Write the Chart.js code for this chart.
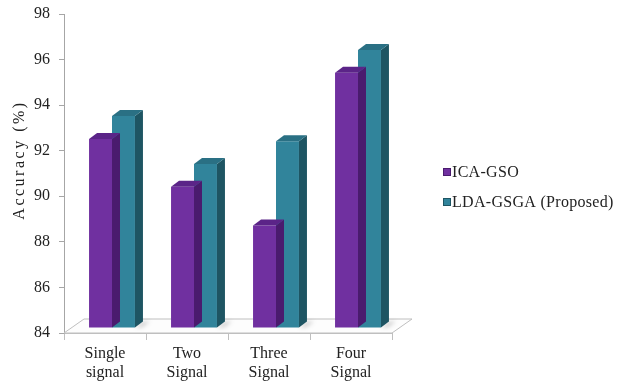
<!DOCTYPE html>
<html>
<head>
<meta charset="utf-8">
<script src="https://cdn.jsdelivr.net/npm/chart.js@4/dist/chart.umd.min.js"></script>
<style>
  html, body { margin: 0; padding: 0; background: #ffffff; }
  canvas { display: block; }
</style>
</head>
<body>
<canvas id="chart" width="619" height="382"></canvas>
<script>
// Accuracy per signal setting, two methods
const categories = [['Single', 'signal'], ['Two', 'Signal'], ['Three', 'Signal'], ['Four', 'Signal']];
const seriesNames = ['ICA-GSO', 'LDA-GSGA (Proposed)'];
const icaGso = [92.3, 90.2, 88.5, 95.2];
const ldaGsga = [93.3, 91.2, 92.2, 96.2];
const yMin = 84, yMax = 98, yStep = 2;

const SERIF = '"Liberation Serif", "Times New Roman", serif';

// Extruded look: floor plane, side faces and top caps drawn from each bar element
const BAR_SHIFT = { x: 7, y: -5 };
const BAR_DEPTH = { x: 8, y: -6 };
const FLOOR_DEPTH = { x: 20, y: -14 };

const depth3d = {
  id: 'depth3d',
  beforeDatasetsDraw(chart) {
    const { ctx, chartArea: a } = chart;
    // floor
    ctx.save();
    ctx.beginPath();
    ctx.moveTo(a.left, a.bottom);
    ctx.lineTo(a.right, a.bottom);
    ctx.lineTo(a.right + FLOOR_DEPTH.x, a.bottom + FLOOR_DEPTH.y);
    ctx.lineTo(a.left + FLOOR_DEPTH.x, a.bottom + FLOOR_DEPTH.y);
    ctx.closePath();
    ctx.fillStyle = '#fdfdfd';
    ctx.fill();
    ctx.strokeStyle = '#bfbfbf';
    ctx.lineWidth = 1;
    ctx.stroke();
    ctx.restore();

    ctx.save();
    ctx.translate(BAR_SHIFT.x, BAR_SHIFT.y);
    // soft shadows at the foot of each group
    const last = chart.getDatasetMeta(chart.data.datasets.length - 1);
    ctx.save();
    ctx.filter = 'blur(2px)';
    ctx.fillStyle = 'rgba(0,0,0,0.18)';
    last.data.forEach(bar => {
      const p = bar.getProps(['x', 'base', 'width'], true);
      const r = p.x + p.width / 2;
      ctx.beginPath();
      ctx.moveTo(r, p.base);
      ctx.lineTo(r + BAR_DEPTH.x, p.base + BAR_DEPTH.y);
      ctx.lineTo(r + BAR_DEPTH.x + 7, p.base + BAR_DEPTH.y);
      ctx.lineTo(r + 7, p.base);
      ctx.closePath();
      ctx.fill();
    });
    ctx.restore();
  },
  afterDatasetDraw(chart, args) {
    const { ctx } = chart;
    const ds = chart.data.datasets[args.index];
    args.meta.data.forEach(bar => {
      const p = bar.getProps(['x', 'y', 'base', 'width'], true);
      const l = p.x - p.width / 2, r = p.x + p.width / 2;
      // side face
      ctx.beginPath();
      ctx.moveTo(r, p.y);
      ctx.lineTo(r + BAR_DEPTH.x, p.y + BAR_DEPTH.y);
      ctx.lineTo(r + BAR_DEPTH.x, p.base + BAR_DEPTH.y);
      ctx.lineTo(r, p.base);
      ctx.closePath();
      ctx.fillStyle = ds.sideColor;
      ctx.fill();
      // top cap
      ctx.beginPath();
      ctx.moveTo(l, p.y);
      ctx.lineTo(l + BAR_DEPTH.x, p.y + BAR_DEPTH.y);
      ctx.lineTo(r + BAR_DEPTH.x, p.y + BAR_DEPTH.y);
      ctx.lineTo(r, p.y);
      ctx.closePath();
      ctx.fillStyle = ds.topColor;
      ctx.fill();
    });
  },
  afterDatasetsDraw(chart) {
    chart.ctx.restore();
  },
  afterDraw(chart) {
    const { ctx } = chart;
    // vertical axis title
    ctx.save();
    ctx.font = '16px ' + SERIF;
    ctx.fillStyle = '#222';
    ctx.letterSpacing = '2.5px';
    ctx.textAlign = 'center';
    ctx.textBaseline = 'middle';
    ctx.translate(20, 160);
    ctx.rotate(-Math.PI / 2);
    ctx.fillText('Accuracy (%)', 0, 0);
    ctx.restore();

    // legend
    ctx.save();
    ctx.font = '16px ' + SERIF;
    ctx.letterSpacing = '0.3px';
    ctx.textBaseline = 'middle';
    chart.data.datasets.forEach((ds, i) => {
      const y = 172 + i * 30;
      ctx.fillStyle = ds.backgroundColor;
      ctx.fillRect(443.5, y - 3.5, 7, 7);
      ctx.strokeStyle = ds.sideColor;
      ctx.lineWidth = 1;
      ctx.strokeRect(443.5, y - 3.5, 7, 7);
      ctx.fillStyle = '#222';
      ctx.fillText(ds.label, 452, y + 1);
    });
    ctx.restore();
  }
};

new Chart(document.getElementById('chart'), {
  type: 'bar',
  data: {
    labels: categories,
    datasets: [
      {
        label: seriesNames[0],
        data: icaGso,
        base: yMin,
        backgroundColor: '#7030A0',
        topColor: '#5B2488',
        sideColor: '#4A1B6E',
        borderWidth: 0,
        categoryPercentage: 0.56,
        barPercentage: 1.0,
        clip: false
      },
      {
        label: seriesNames[1],
        data: ldaGsga,
        base: yMin,
        backgroundColor: '#31849B',
        topColor: '#2A7084',
        sideColor: '#1E5563',
        borderWidth: 0,
        categoryPercentage: 0.56,
        barPercentage: 1.0,
        clip: false
      }
    ]
  },
  options: {
    responsive: false,
    animation: false,
    devicePixelRatio: 1,
    layout: { padding: { left: 0, right: 227, top: 14, bottom: 0 } },
    plugins: {
      legend: { display: false },
      tooltip: { enabled: false }
    },
    scales: {
      x: {
        offset: true,
        afterFit(scale) { scale.height = 49; scale.paddingLeft = 0; scale.paddingRight = 0; },
        grid: { display: true, drawOnChartArea: false, offset: true, tickLength: 7, color: '#bfbfbf' },
        border: { display: true, color: '#bfbfbf' },
        ticks: { color: '#222', font: { family: SERIF, size: 16, lineHeight: 1.2 }, padding: 4, maxRotation: 0 }
      },
      y: {
        min: yMin,
        max: yMax,
        afterFit(scale) { scale.width = 64; scale.paddingTop = 0; scale.paddingBottom = 0; },
        grid: { display: true, drawOnChartArea: false, tickLength: 5, color: '#a6a6a6' },
        border: { display: true, color: '#a6a6a6' },
        ticks: { stepSize: yStep, color: '#222', font: { family: SERIF, size: 16 }, padding: 9 }
      }
    }
  },
  plugins: [depth3d]
});
</script>
</body>
</html>
